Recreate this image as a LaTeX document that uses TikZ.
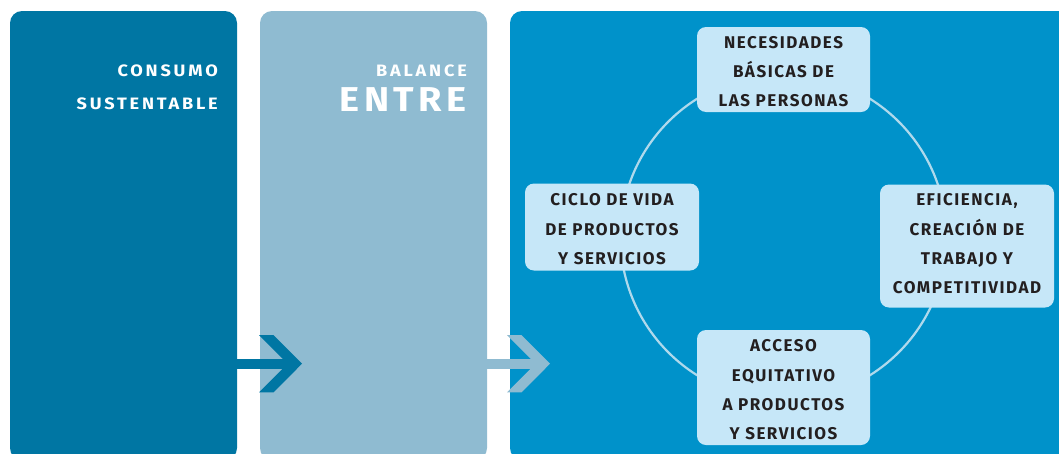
\documentclass[tikz,border=0pt]{standalone}
\usepackage{fontspec}
\setmainfont{Fira Sans}
\newfontfamily\dinfont[LetterSpace=9]{Fira Sans}
\newfontfamily\dinttl[LetterSpace=17,FakeStretch=1.1]{Fira Sans}
\newfontfamily\dinbig[LetterSpace=13,FakeStretch=1.1]{Fira Sans}
\definecolor{panelA}{RGB}{0,118,163}
\definecolor{panelB}{RGB}{143,187,209}
\definecolor{panelC}{RGB}{0,146,202}
\definecolor{boxfill}{RGB}{198,231,248}
\definecolor{ringc}{RGB}{175,217,236}
\definecolor{boxtext}{RGB}{35,31,32}
\tikzset{
  panel/.style={rounded corners=12pt},
  cbox/.style={rectangle, fill=boxfill, rounded corners=9pt, inner sep=0pt},
  boxtxt/.style={text=boxtext, font=\dinfont\bfseries\fontsize{17}{29.2}\selectfont, align=center, inner sep=0pt, anchor=north},
  ttl/.style={text=white, font=\dinttl\bfseries\fontsize{16.5}{18}\selectfont, inner sep=0pt, anchor=base east},
  bigttl/.style={text=white, font=\dinbig\bfseries\fontsize{34.5}{36}\selectfont, inner sep=0pt, anchor=base east},
}
\newcommand{\topstrut}{\rule{0pt}{17pt}}
\begin{document}
\begin{tikzpicture}[x=1pt,y=-1pt]
\useasboundingbox (0,0) rectangle (1059,453);
\begin{scope}
\clip (0,0) rectangle (1059,453);
\fill[panelA,panel] (10,11) rectangle (237,460);
\fill[panelB,panel] (260,11) rectangle (487,460);
\fill[panelC,panel] (510,11) rectangle (1080,460);
\end{scope}
% arrows
\fill[panelA] (236,358.5) rectangle (290,369);
\fill[panelA] (259,335) -- (273.5,335) -- (302,363.7) -- (273.5,392.4) -- (259,392.4) -- (287.5,363.7) -- cycle;
\fill[panelB] (486,358.5) rectangle (538,369);
\fill[panelB] (507,335) -- (521.5,335) -- (550,363.7) -- (521.5,392.4) -- (507,392.4) -- (535.5,363.7) -- cycle;
% titles
\node[ttl] (consumo) at (218,76.5) {CONSUMO};
\node[ttl] (sustentable) at (218,109.5) {SUSTENTABLE};
\node[ttl] (balance) at (467,76.5) {BALANCE};
\node[bigttl] (entre) at (467,111) {ENTRE};
% ring
\draw[ringc, line width=2.2pt] (783.5,237) circle[radius=163pt];
% boxes
\node[cbox, minimum width=173pt, minimum height=85pt] (needbox) at (783.5,69.5) {};
\node[cbox, minimum width=174pt, minimum height=87pt] (ciclobox) at (612,227) {};
\node[cbox, minimum width=174pt, minimum height=123pt] (eficbox) at (967,246) {};
\node[cbox, minimum width=173pt, minimum height=115pt] (accesobox) at (783.5,387.5) {};
\node[boxtxt] (needtxt) at (783.5,31) {\topstrut NECESIDADES\\BÁSICAS DE\\LAS PERSONAS};
\node[boxtxt] (ciclotxt) at (612,188.7) {\topstrut CICLO DE VIDA\\DE PRODUCTOS\\Y SERVICIOS};
\node[boxtxt] (eficitxt) at (967,188.7) {\topstrut EFICIENCIA,\\CREACIÓN DE\\TRABAJO Y\\COMPETITIVIDAD};
\node[boxtxt] (accesotxt) at (783.5,334.7) {\topstrut ACCESO\\EQUITATIVO\\A PRODUCTOS\\Y SERVICIOS};
\end{tikzpicture}
\end{document}
